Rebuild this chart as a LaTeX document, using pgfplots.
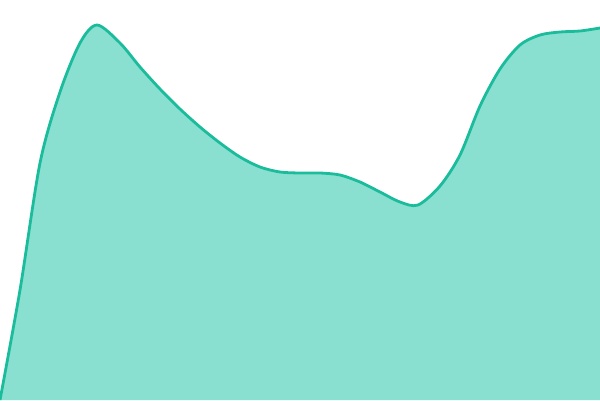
\documentclass[border=0pt]{standalone}
\usepackage{pgfplots}
\usepackage{pgfplotstable}
\pgfplotsset{compat=1.18}

\definecolor{lineteal}{HTML}{1ABC9C}
\definecolor{fillteal}{HTML}{8AE0D0}

\pgfplotstableread{
x y
0 0
20 110
40 237
60 308
80 357
97 375
120 357
140 333
160 311
180 291
200 273
220 257
240 243
260 233
280 228
300 227
320 227
340 225
360 218
380 208
400 198
418 195
440 214
460 245
480 294
500 331
520 355
540 365
560 368
580 369
600 372
}\curvedata

\begin{document}
\begin{tikzpicture}
	\begin{axis}[
		scale only axis,
		width=600bp, height=400bp,
		xmin=0, xmax=600,
		ymin=0, ymax=400,
		hide axis,
		clip=true,
		]
		
		% area under the curve, no outline
		\addplot[smooth, draw=none, fill=fillteal] table {\curvedata} \closedcycle;
		% the curve itself
		\addplot[smooth, draw=lineteal, line width=2.8bp] table {\curvedata};
		
	\end{axis}
	\pgfresetboundingbox
	\path[use as bounding box] (current axis.south west) rectangle (current axis.north east);
\end{tikzpicture}
\end{document}
